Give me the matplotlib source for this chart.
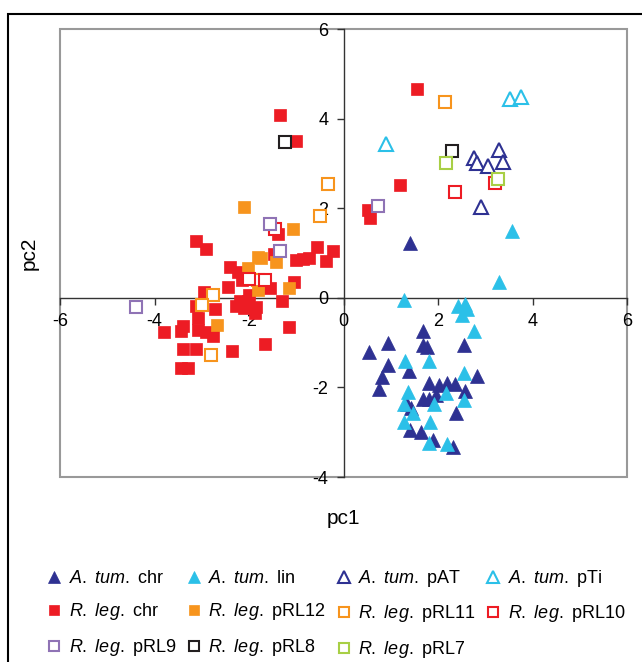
import matplotlib
matplotlib.use("Agg")
import matplotlib.pyplot as plt
from matplotlib.patches import Rectangle

plt.rcParams['font.family'] = ['Liberation Sans', 'DejaVu Sans']
plt.rcParams['mathtext.fontset'] = 'custom'
plt.rcParams['mathtext.rm'] = 'Liberation Sans'
plt.rcParams['mathtext.it'] = 'Liberation Sans:italic'

# A. tumefaciens
a_chr_x = [1.41, 0.55, 0.94, 1.68, 1.68, 1.76, 2.54, 0.94, 1.38, 0.82, 0.75, 1.81, 2.03, 2.19,
           2.35, 2.82, 2.58, 1.68, 1.82, 1.96, 1.35, 1.42, 2.39, 1.40, 1.63, 1.90, 2.31]
a_chr_y = [1.23, -1.20, -1.00, -0.75, -1.05, -1.09, -1.05, -1.50, -1.64, -1.77, -2.03, -1.91, -1.94, -1.90,
           -1.92, -1.75, -2.08, -2.27, -2.25, -2.17, -2.37, -2.46, -2.57, -2.95, -2.99, -3.18, -3.32]
a_lin_x = [3.56, 3.29, 1.29, 2.42, 2.58, 2.61, 2.51, 2.77, 1.30, 1.81, 2.54, 1.36, 2.16, 2.54,
           1.29, 1.92, 1.48, 1.29, 1.83, 1.81, 2.19]
a_lin_y = [1.50, 0.36, -0.06, -0.18, -0.13, -0.25, -0.38, -0.75, -1.41, -1.41, -1.67, -2.11, -2.12, -2.28,
           -2.37, -2.37, -2.57, -2.77, -2.77, -3.24, -3.26]
a_pat_x = [2.77, 2.82, 3.05, 3.29, 3.37, 2.90]
a_pat_y = [3.12, 3.02, 2.95, 3.30, 3.04, 2.02]
a_pti_x = [0.90, 3.53, 3.76]
a_pti_y = [3.44, 4.44, 4.48]

# R. leguminosarum
r_chr_x = [1.55, 1.19, 0.51, 0.57,
           -1.35, -1.00, -3.12, -2.92, -1.39, -0.56, -0.22, -1.00, -0.85, -0.72, -0.37, -1.48,
           -2.40, -2.24, -2.14, -2.45, -1.55, -1.04, -2.96, -1.99, -1.31, -3.12, -2.73, -2.20,
           -2.03, -2.27, -2.10, -1.85, -1.88, -3.08, -3.40, -3.44, -3.79, -3.08, -2.91, -2.77,
           -1.16, -3.39, -3.12, -2.36, -1.67, -3.44, -3.30]
r_chr_y = [4.67, 2.52, 1.95, 1.78,
           4.09, 3.51, 1.26, 1.09, 1.43, 1.13, 1.05, 0.85, 0.87, 0.88, 0.83, 0.98,
           0.68, 0.57, 0.39, 0.25, 0.22, 0.35, 0.14, 0.07, -0.07, -0.18, -0.25, -0.08,
           -0.08, -0.19, -0.23, -0.21, -0.34, -0.45, -0.64, -0.75, -0.77, -0.71, -0.77, -0.86,
           -0.66, -1.15, -1.15, -1.18, -1.03, -1.57, -1.57]
r_12_x = [-2.10, -1.07, -1.81, -1.74, -1.42, -2.03, -1.81, -1.16, -2.68]
r_12_y = [2.03, 1.54, 0.92, 0.89, 0.79, 0.66, 0.18, 0.22, -0.60]
r_11_x = [2.14, -0.33, -0.49, -2.77, -3.00, -2.80, -1.80]
r_11_y = [4.38, 2.53, 1.83, 0.07, -0.16, -1.27, 0.40]
r_10_x = [-1.46, -1.99, -1.67, 3.20, 2.37]
r_10_y = [1.54, 0.42, 0.39, 2.57, 2.36]
r_9_x = [-4.40, -1.55, -1.35, 0.73]
r_9_y = [-0.20, 1.65, 1.05, 2.04]
r_8_x = [-1.23, 2.29]
r_8_y = [3.48, 3.27]
r_7_x = [2.17, 3.28]
r_7_y = [3.02, 2.65]

navy = '#2E3192'
cyan = '#2BC0E8'
red = '#ED1C24'
orange = '#F7941D'
purple = '#8F73B5'
black = '#231F20'
green = '#A8CF45'

at = r'$\mathit{A.}$ $\mathit{tum.}$ '
rl = r'$\mathit{R.}$ $\mathit{leg.}$ '

fig = plt.figure(figsize=(6.42, 6.62), dpi=100)
ax = fig.add_axes([60 / 642, 1 - 477 / 662, 567 / 642, 448 / 662])

ms_tri = 9.5
ms_sq = 8.5
h = {}
h['a_chr'] = ax.plot(a_chr_x, a_chr_y, '^', ms=ms_tri, color=navy, mec=navy, mew=0.5, ls='none', label=at + 'chr')[0]
h['a_lin'] = ax.plot(a_lin_x, a_lin_y, '^', ms=ms_tri, color=cyan, mec=cyan, mew=0.5, ls='none', label=at + 'lin')[0]
h['a_pat'] = ax.plot(a_pat_x, a_pat_y, '^', ms=ms_tri, mfc='white', mec=navy, mew=1.5, ls='none', label=at + 'pAT')[0]
h['a_pti'] = ax.plot(a_pti_x, a_pti_y, '^', ms=ms_tri, mfc='white', mec=cyan, mew=1.5, ls='none', label=at + 'pTi')[0]
h['r_chr'] = ax.plot(r_chr_x, r_chr_y, 's', ms=ms_sq, color=red, mec=red, mew=0.5, ls='none', label=rl + 'chr')[0]
h['r_12'] = ax.plot(r_12_x, r_12_y, 's', ms=ms_sq, color=orange, mec=orange, mew=0.5, ls='none', label=rl + 'pRL12')[0]
h['r_11'] = ax.plot(r_11_x, r_11_y, 's', ms=ms_sq, mfc='white', mec=orange, mew=1.5, ls='none', label=rl + 'pRL11')[0]
h['r_10'] = ax.plot(r_10_x, r_10_y, 's', ms=ms_sq, mfc='white', mec=red, mew=1.5, ls='none', label=rl + 'pRL10')[0]
h['r_9'] = ax.plot(r_9_x, r_9_y, 's', ms=ms_sq, mfc='white', mec=purple, mew=1.5, ls='none', label=rl + 'pRL9')[0]
h['r_8'] = ax.plot(r_8_x, r_8_y, 's', ms=ms_sq, mfc='white', mec=black, mew=1.5, ls='none', label=rl + 'pRL8')[0]
h['r_7'] = ax.plot(r_7_x, r_7_y, 's', ms=ms_sq, mfc='white', mec=green, mew=1.5, ls='none', label=rl + 'pRL7')[0]

ax.set_xlim(-6, 6)
ax.set_ylim(-4, 6)
ax.set_xticks([-6, -4, -2, 0, 2, 4, 6])
ax.set_yticks([-4, -2, 0, 2, 4, 6])
ax.set_xticklabels(['-6', '-4', '-2', '0', '2', '4', '6'])
ax.set_yticklabels(['-4', '-2', '0', '2', '4', '6'])

ax.spines['left'].set_position(('data', 0))
ax.spines['bottom'].set_position(('data', 0))
for s in ['left', 'bottom']:
    ax.spines[s].set_color('#333333')
    ax.spines[s].set_linewidth(1.0)
    ax.spines[s].set_zorder(0.5)
for s in ['top', 'right']:
    ax.spines[s].set_visible(False)
ax.add_patch(Rectangle((0, 0), 1, 1, transform=ax.transAxes, fill=False,
                       edgecolor='#999999', lw=1.5, clip_on=False, zorder=0.4))
ax.tick_params(direction='out', length=5, width=1, color='#333333', labelsize=13, pad=6)

ax.set_xlabel('pc1', fontsize=15)
ax.set_ylabel('pc2', fontsize=15)
ax.xaxis.set_label_coords(0.5, -0.072)
ax.yaxis.set_label_coords(-0.038, 0.5)

order = ['a_chr', 'r_chr', 'r_9', 'a_lin', 'r_12', 'r_8', 'a_pat', 'r_11', 'r_7', 'a_pti', 'r_10']
leg_handles = []
for k in order:
    hh = h[k]
    lh = plt.Line2D([], [], marker=hh.get_marker(), ls='none',
                    mfc=hh.get_markerfacecolor(), mec=hh.get_markeredgecolor(),
                    mew=1.5 if hh.get_markerfacecolor() == 'white' else 0.5,
                    ms=8 if hh.get_marker() == '^' else 7)
    leg_handles.append(lh)
fig.legend(leg_handles, [h[k].get_label() for k in order], ncol=4,
           loc='upper left', bbox_to_anchor=(47 / 642, 1 - 568 / 662),
           frameon=False, fontsize=13, handlelength=0.8, handletextpad=0.4,
           columnspacing=0.6, labelspacing=0.8, borderpad=0, borderaxespad=0)

fig.add_artist(Rectangle((8 / 642, -0.2), 1.5, 1.2 - 14 / 662, transform=fig.transFigure,
                         fill=False, edgecolor='black', lw=1.5))

fig.savefig('out.png', dpi=100)
